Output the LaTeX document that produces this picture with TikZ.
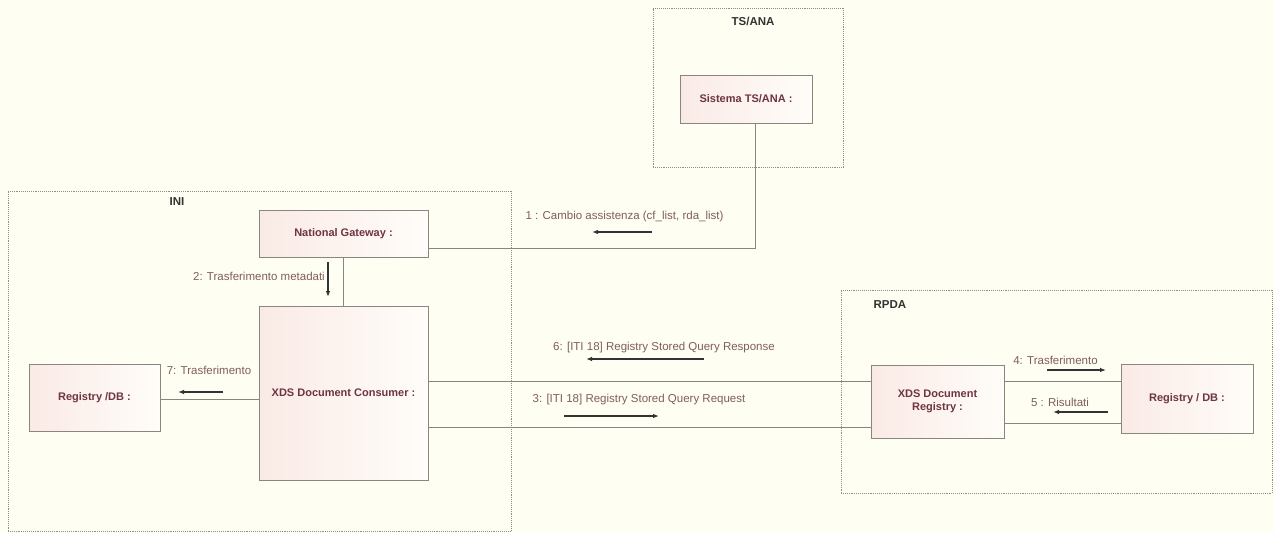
\documentclass[tikz,border=0pt]{standalone}
\usepackage{fontspec}
\setmainfont{Liberation Sans}
\usetikzlibrary{calc, arrows.meta}

\definecolor{paper}{HTML}{FFFEF3}
\definecolor{framegray}{HTML}{8E8E88}
\definecolor{linegray}{HTML}{8A8580}
\definecolor{boxpink}{HTML}{FAEAE6}
\definecolor{boxwhite}{HTML}{FFFDF9}
\definecolor{partred}{HTML}{6E3442}
\definecolor{msgred}{HTML}{7E5E5E}

\begin{document}
\begin{tikzpicture}[x=1pt, y=-1pt,
    frame/.style={draw=framegray, densely dotted, line width=0.9pt},
    frametitle/.style={font=\fontsize{11.5}{12}\selectfont\bfseries, text=black!80},
    partbox/.style={draw=linegray, line width=0.8pt, left color=boxpink, right color=boxwhite,
        inner sep=0pt, align=center, text=partred, font=\fontsize{11}{13}\selectfont\bfseries},
    msglabel/.style={inner sep=0pt, text=msgred, font=\fontsize{11.5}{12}\selectfont},
    link/.style={draw=linegray, line width=0.8pt},
    msg/.style={-{Latex[length=6pt, width=4.5pt]}, line width=1.1pt, draw=black!80}]

    % Background
    \fill[paper] (0,0) rectangle (1274,533);
    \useasboundingbox (0,0) rectangle (1274,533);

    % Containers
    \node[frame, minimum width=190pt, minimum height=159pt] (tsana) at (748,87.5) {};
    \node[frametitle] (tsanaT) at (753,21) {TS/ANA};
    \node[frame, minimum width=503pt, minimum height=340pt] (ini) at (259.5,361) {};
    \node[frametitle] (iniT) at (177,202) {INI};
    \node[frame, minimum width=431pt, minimum height=203pt] (rpda) at (1056.5,391.5) {};
    \node[frametitle, anchor=west] (rpdaT) at (870,305) {RPDA};

    % Parts
    \node[partbox, minimum width=132pt, minimum height=48pt] (sistema) at (746,99) {Sistema TS/ANA :};
    \node[partbox, minimum width=169pt, minimum height=47pt] (gateway) at (343.5,233.5) {National Gateway :};
    \node[partbox, minimum width=169pt, minimum height=174pt] (consumer) at (343.5,393) {XDS Document Consumer :};
    \node[partbox, minimum width=131pt, minimum height=67pt] (regleft) at (94.5,397.5) {Registry /DB :};
    \node[partbox, minimum width=133pt, minimum height=73pt] (xdsreg) at (937.5,401.5) {XDS Document\\Registry :};
    \node[partbox, minimum width=132pt, minimum height=69pt] (regright) at (1187,398.5) {Registry / DB :};

    % Links
    \draw[link] ($(sistema.south)+(9,0)$) |- ($(gateway.east)+(0,14.5)$);
    \draw[link] (gateway) -- (consumer);
    \draw[link] (consumer.east |- 0,381) -- (xdsreg.west |- 0,381);
    \draw[link] (consumer.east |- 0,427) -- (xdsreg.west |- 0,427);
    \draw[link] (consumer.west |- 0,399) -- (regleft.east |- 0,399);
    \draw[link] (xdsreg.east |- 0,381) -- (regright.west |- 0,381);
    \draw[link] (xdsreg.east |- 0,423) -- (regright.west |- 0,423);

    % Messages
    \node[msglabel] (l1) at (624.5,217) {1 : Cambio assistenza (cf\_list, rda\_list)};
    \draw[msg] ($(l1)+(27.5,15)$) -- ++(-60,0);
    \node[msglabel, anchor=east] (l2) at (325,276) {2: Trasferimento metadati};
    \draw[msg] ($(l2.east)+(3,-14)$) -- ++(0,35);
    \node[msglabel] (l3) at (639,400) {3: [ITI 18] Registry Stored Query Request};
    \draw[msg] ($(l3)+(-75,16)$) -- ++(95,0);
    \node[msglabel] (l4) at (1055.5,360) {4: Trasferimento};
    \draw[msg] ($(l4)+(-8.5,10)$) -- ++(59,0);
    \node[msglabel] (l5) at (1060,402) {5 : Risultati};
    \draw[msg] ($(l5)+(48,10)$) -- ++(-55,0);
    \node[msglabel] (l6) at (664,348) {6: [ITI 18] Registry Stored Query Response};
    \draw[msg] ($(l6)+(40,11)$) -- ++(-118,0);
    \node[msglabel] (l7) at (209,370) {7: Trasferimento};
    \draw[msg] ($(l7)+(14,22)$) -- ++(-45,0);
\end{tikzpicture}
\end{document}
